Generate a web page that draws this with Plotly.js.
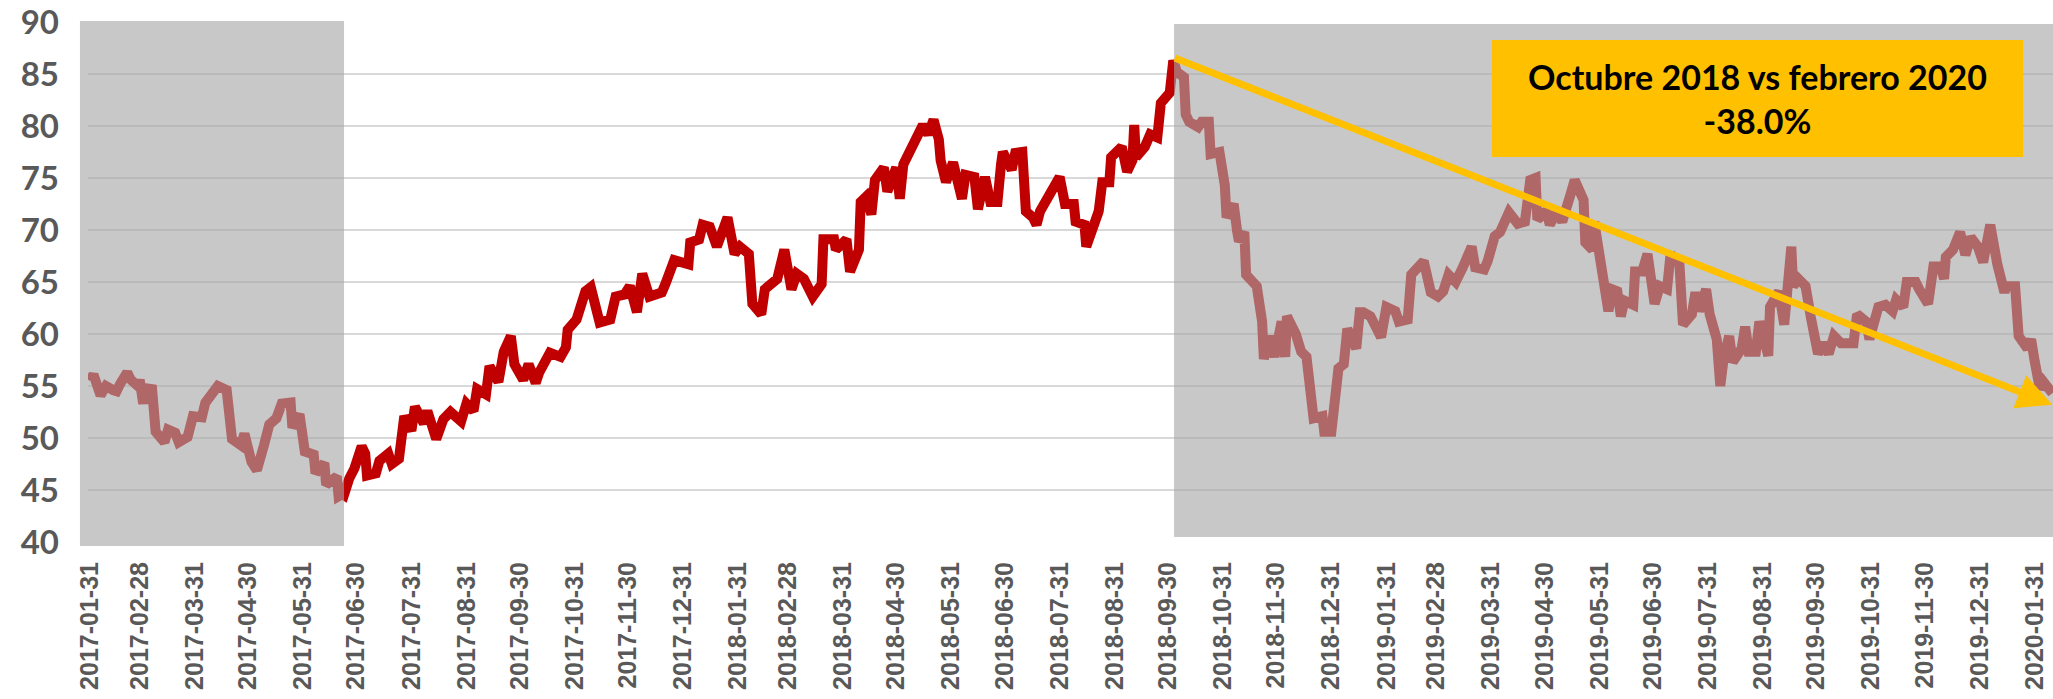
<!DOCTYPE html>
<html>
<head>
<meta charset="utf-8">
<script src="https://cdn.plot.ly/plotly-3.0.1.min.js"></script>
<style>
  html, body { margin: 0; padding: 0; background: #ffffff; }
  #chart { width: 2053px; height: 699px; }
</style>
</head>
<body>
<div id="chart"></div>
<script>
// ---- Data ----
const dates = [
  "2017-01-31","2017-02-02","2017-02-06","2017-02-09","2017-02-13","2017-02-15","2017-02-17","2017-02-21","2017-02-23","2017-02-27",
  "2017-02-28","2017-03-02","2017-03-03","2017-03-07","2017-03-09","2017-03-14","2017-03-16","2017-03-20","2017-03-22","2017-03-27",
  "2017-03-30","2017-04-04","2017-04-06","2017-04-11","2017-04-13","2017-04-18","2017-04-19","2017-04-21","2017-04-26","2017-04-28",
  "2017-05-02","2017-05-05","2017-05-09","2017-05-12","2017-05-16","2017-05-19","2017-05-24","2017-05-25","2017-05-29","2017-05-31",
  "2017-06-01","2017-06-06","2017-06-07","2017-06-12","2017-06-13","2017-06-19","2017-06-20","2017-06-22",
  "2017-06-23","2017-06-26","2017-06-29","2017-07-03","2017-07-05","2017-07-06","2017-07-11","2017-07-13","2017-07-18","2017-07-20",
  "2017-07-24","2017-07-27","2017-07-31","2017-08-02","2017-08-07","2017-08-09","2017-08-14","2017-08-18","2017-08-22","2017-08-28",
  "2017-08-31","2017-09-04","2017-09-06","2017-09-11","2017-09-13","2017-09-18","2017-09-21","2017-09-25","2017-09-27","2017-10-02",
  "2017-10-05","2017-10-09","2017-10-11","2017-10-17","2017-10-23","2017-10-26","2017-10-27","2017-11-01","2017-11-06","2017-11-09",
  "2017-11-14","2017-11-20","2017-11-23","2017-11-28","2017-12-01","2017-12-05","2017-12-08","2017-12-12","2017-12-19","2017-12-21",
  "2017-12-26","2018-01-03","2018-01-04","2018-01-09","2018-01-11","2018-01-15","2018-01-19","2018-01-25","2018-01-29","2018-02-01",
  "2018-02-06","2018-02-08","2018-02-13","2018-02-15","2018-02-22","2018-02-26","2018-03-02","2018-03-05","2018-03-09","2018-03-14",
  "2018-03-19","2018-03-20","2018-03-26","2018-03-27","2018-04-02","2018-04-04","2018-04-06","2018-04-09","2018-04-10","2018-04-13",
  "2018-04-16","2018-04-18","2018-04-23","2018-04-25","2018-04-30","2018-05-02","2018-05-04","2018-05-08","2018-05-11","2018-05-15",
  "2018-05-18","2018-05-21","2018-05-24","2018-05-25","2018-05-28","2018-06-01","2018-06-04","2018-06-06","2018-06-08","2018-06-13",
  "2018-06-15","2018-06-19","2018-06-22","2018-06-26","2018-06-28","2018-06-29","2018-07-04","2018-07-06","2018-07-10","2018-07-11",
  "2018-07-12","2018-07-16","2018-07-18","2018-07-20","2018-07-25","2018-07-31","2018-08-03","2018-08-08","2018-08-09","2018-08-14",
  "2018-08-15","2018-08-20","2018-08-22","2018-08-24","2018-08-28","2018-08-29","2018-09-04","2018-09-07","2018-09-10","2018-09-11",
  "2018-09-12","2018-09-17","2018-09-20","2018-09-24","2018-09-26","2018-10-01","2018-10-03",
  "2018-10-05","2018-10-09","2018-10-10","2018-10-12","2018-10-17","2018-10-19","2018-10-23","2018-10-24","2018-10-29","2018-11-01",
  "2018-11-02","2018-11-06","2018-11-08","2018-11-09","2018-11-12","2018-11-13","2018-11-19","2018-11-21","2018-11-22","2018-11-23",
  "2018-11-26","2018-11-29","2018-12-03","2018-12-05","2018-12-06","2018-12-11","2018-12-14","2018-12-17","2018-12-18","2018-12-20",
  "2018-12-21","2018-12-26","2018-12-27","2018-12-31","2019-01-02","2019-01-03","2019-01-04","2019-01-07","2019-01-09","2019-01-14",
  "2019-01-16","2019-01-18","2019-01-22","2019-01-28","2019-01-31","2019-02-05","2019-02-07","2019-02-12","2019-02-14","2019-02-21",
  "2019-02-25","2019-03-01","2019-03-04","2019-03-07","2019-03-11","2019-03-15","2019-03-20","2019-03-22","2019-03-27","2019-03-29",
  "2019-04-02","2019-04-05","2019-04-10","2019-04-15","2019-04-19","2019-04-22","2019-04-25","2019-04-26","2019-05-01","2019-05-03",
  "2019-05-07","2019-05-10","2019-05-13","2019-05-15","2019-05-17","2019-05-20","2019-05-22","2019-05-23","2019-05-27","2019-05-28",
  "2019-05-30","2019-06-03","2019-06-05","2019-06-07","2019-06-10","2019-06-12","2019-06-14","2019-06-19","2019-06-20","2019-06-24",
  "2019-06-27","2019-07-01","2019-07-04","2019-07-08","2019-07-10","2019-07-15","2019-07-17","2019-07-22","2019-07-24","2019-07-26",
  "2019-07-30","2019-08-01","2019-08-05","2019-08-07","2019-08-09","2019-08-12","2019-08-14","2019-08-19","2019-08-21","2019-08-23",
  "2019-08-27","2019-08-29","2019-09-03","2019-09-04","2019-09-09","2019-09-12","2019-09-13","2019-09-16","2019-09-17","2019-09-20",
  "2019-09-24","2019-09-26","2019-09-27","2019-10-01","2019-10-04","2019-10-07","2019-10-10","2019-10-14","2019-10-17","2019-10-21",
  "2019-10-23","2019-10-28","2019-10-30","2019-11-04","2019-11-08","2019-11-12","2019-11-14","2019-11-18","2019-11-20","2019-11-25",
  "2019-11-27","2019-12-02","2019-12-05","2019-12-09","2019-12-11","2019-12-12","2019-12-16","2019-12-20","2019-12-23","2019-12-26",
  "2019-12-30","2020-01-02","2020-01-06","2020-01-09","2020-01-10","2020-01-14","2020-01-15","2020-01-20","2020-01-22","2020-01-27",
  "2020-01-29","2020-01-31","2020-02-03","2020-02-05","2020-02-10"
];
const prices = [
  55.5,56.1,54.1,55.0,54.6,54.5,55.2,56.3,55.6,55.0,
  55.6,53.3,54.8,54.7,50.6,49.6,50.8,50.5,49.6,50.1,
  52.1,52.0,53.4,54.7,55.0,54.6,52.5,49.9,49.3,50.4,
  47.7,46.9,49.3,51.3,51.9,53.3,53.4,51.0,52.3,49.3,
  48.7,48.4,46.6,47.6,45.5,46.3,44.4,44.6,
  44.5,46.1,47.1,49.2,48.5,46.4,46.6,47.8,48.5,47.5,
  48.0,52.1,50.7,53.0,51.4,52.6,49.9,51.8,52.5,51.6,
  53.3,52.6,54.7,54.2,56.9,55.4,58.3,59.8,57.1,55.6,
  57.1,55.3,56.3,58.2,57.8,58.7,60.4,61.4,64.1,64.5,
  61.1,61.4,63.6,63.8,64.6,62.1,65.8,63.6,64.0,64.8,
  67.1,66.7,68.8,69.1,70.5,70.3,68.4,71.2,67.7,68.4,
  67.7,62.9,61.9,64.3,65.3,68.1,64.3,65.8,65.3,63.6,
  64.8,69.1,69.1,68.1,69.1,66.0,67.0,68.1,72.7,73.2,
  71.5,74.8,76.0,73.7,76.0,73.0,76.3,77.7,79.1,80.1,
  79.2,80.6,78.7,76.7,74.6,76.5,74.4,73.0,75.3,75.1,
  72.0,75.1,72.7,72.7,76.3,77.5,75.8,77.4,77.5,74.9,
  71.8,71.2,70.5,71.8,73.4,75.1,72.5,72.5,70.8,70.5,
  68.4,70.8,71.8,74.6,74.6,77.0,78.0,75.6,76.7,80.1,
  77.0,78.0,79.2,78.9,82.2,83.2,86.3,
  85.2,84.7,81.1,80.4,79.9,80.4,80.4,77.3,77.5,74.3,
  71.2,72.5,69.8,68.9,69.8,65.7,64.6,61.9,61.2,57.6,
  59.8,57.8,61.2,57.8,61.7,60.0,58.3,57.8,55.7,52.6,
  51.9,52.1,50.6,50.6,54.0,55.7,56.7,57.1,60.5,58.6,
  62.1,62.1,61.7,59.7,62.6,62.2,61.2,61.4,65.7,67.0,
  64.0,63.6,64.1,65.7,65.0,66.4,68.4,66.4,66.2,67.0,
  69.4,69.8,71.7,70.6,70.8,74.8,75.0,71.0,71.8,70.5,
  71.8,70.8,72.2,73.6,74.8,73.7,72.9,68.8,68.1,70.8,
  68.4,63.5,62.2,64.3,64.1,61.7,63.2,62.8,66.0,66.0,
  67.7,62.9,64.6,64.3,67.7,66.7,60.9,61.9,64.0,62.2,
  64.3,61.9,59.5,55.0,57.8,59.8,57.3,58.6,60.7,58.3,
  58.3,61.2,57.9,62.6,64.1,60.9,63.3,68.4,64.6,65.3,
  64.6,61.9,61.6,58.1,59.1,58.1,59.8,59.1,59.1,59.1,
  61.9,61.2,59.5,62.6,62.8,62.2,63.3,62.6,65.0,65.0,
  64.3,62.9,66.5,66.5,65.3,67.4,68.1,69.8,67.6,69.3,
  68.4,66.9,70.5,67.0,66.7,64.0,64.6,64.6,59.8,58.6,
  59.5,57.4,54.7,55.4,54.3
];
const tickLabels = [
  "2017-01-31","2017-02-28","2017-03-31","2017-04-30","2017-05-31","2017-06-30","2017-07-31","2017-08-31","2017-09-30","2017-10-31","2017-11-30","2017-12-31",
  "2018-01-31","2018-02-28","2018-03-31","2018-04-30","2018-05-31","2018-06-30","2018-07-31","2018-08-31","2018-09-30","2018-10-31","2018-11-30","2018-12-31",
  "2019-01-31","2019-02-28","2019-03-31","2019-04-30","2019-05-31","2019-06-30","2019-07-31","2019-08-31","2019-09-30","2019-10-31","2019-11-30","2019-12-31",
  "2020-01-31"
];
const yTicks = [40, 45, 50, 55, 60, 65, 70, 75, 80, 85, 90];
const boxLine1 = "Octubre 2018 vs febrero 2020";
const boxLine2 = "-38.0%";
const arrowStart = {date: "2018-10-03", value: 86.6};
const arrowEnd = {date: "2020-02-10", value: 53.2};

// ---- Chart ----
const trace = {
  x: dates, y: prices, type: "scatter", mode: "lines",
  line: {color: "#C00000", width: 10},
  hoverinfo: "skip", showlegend: false
};

const shade = "rgba(166,166,166,0.62)";
const layout = {
  width: 2053, height: 699,
  margin: {l: 88, r: 0, t: 22, b: 157, pad: 0},
  paper_bgcolor: "#ffffff", plot_bgcolor: "#ffffff",
  showlegend: false,
  xaxis: {
    type: "date",
    range: ["2017-01-29 22:00", "2020-02-10 08:00"],
    tickmode: "array", tickvals: tickLabels, ticktext: tickLabels,
    tickangle: -90, ticks: "", showgrid: false, zeroline: false, showline: false,
    ticklabelstandoff: 14,
    tickfont: {family: "'Liberation Sans', Arial, sans-serif", size: 25, color: "#595959", weight: "bold"}
  },
  yaxis: {
    range: [40, 90], tickmode: "array", tickvals: yTicks, ticktext: yTicks.map(String),
    ticks: "", showgrid: true, gridcolor: "#D9D9D9", gridwidth: 2,
    zeroline: false, showline: false, ticklabelstandoff: 28,
    tickfont: {family: "Lato, 'Open Sans', sans-serif", size: 33, color: "#595959", weight: "bold"}
  },
  shapes: [
    {type: "rect", layer: "above", xref: "paper", yref: "paper",
     x0: -0.0041, x1: 0.1303, y0: -0.0077, y1: 1.0019, fillcolor: shade, line: {width: 0}},
    {type: "rect", layer: "above", xref: "paper", yref: "paper",
     x0: 0.5527, x1: 1.0, y0: 0.0096, y1: 0.9962, fillcolor: shade, line: {width: 0}}
  ],
  annotations: [
    {x: arrowEnd.date, y: arrowEnd.value, xref: "x", yref: "y",
     ax: arrowStart.date, ay: arrowStart.value, axref: "x", ayref: "y",
     text: "", showarrow: true, arrowhead: 2, arrowsize: 1, arrowwidth: 7,
     arrowcolor: "#FFC000", standoff: 0, startstandoff: 0},
    {xref: "paper", yref: "paper", x: 0.8496, y: 0.8529, xanchor: "center", yanchor: "middle",
     text: "<b>" + boxLine1 + "</b><br><b>" + boxLine2 + "</b>",
     showarrow: false, bgcolor: "#FFC000", borderpad: 0, borderwidth: 0,
     width: 531, height: 117, align: "center", valign: "middle",
     font: {family: "Lato, 'Open Sans', sans-serif", size: 34, color: "#000000"}}
  ]
};

Plotly.newPlot("chart", [trace], layout, {staticPlot: true, displayModeBar: false});
</script>
</body>
</html>
